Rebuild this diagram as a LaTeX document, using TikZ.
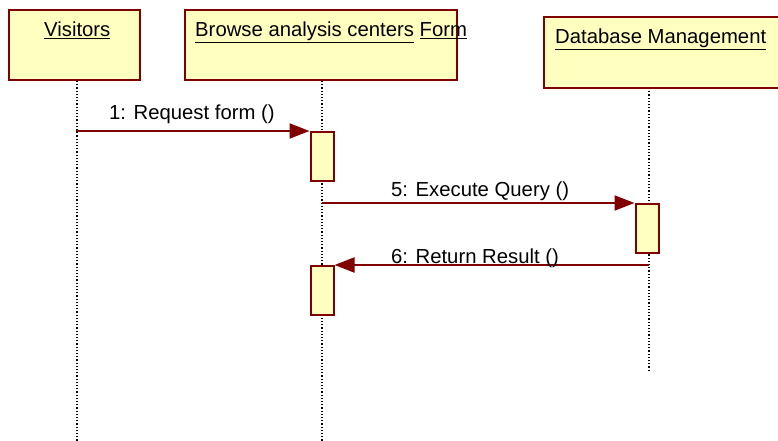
\documentclass[tikz,border=0pt]{standalone}
\usepackage{fontspec}
\setmainfont{Liberation Sans}
\usetikzlibrary{arrows.meta}
\definecolor{umlred}{RGB}{128,0,0}
\definecolor{umlfill}{RGB}{255,255,192}
\tikzset{
  objbox/.style={draw=umlred, fill=umlfill, line width=2.2pt},
  actbox/.style={draw=umlred, fill=umlfill, line width=2pt, minimum width=23pt, minimum height=49pt, inner sep=0pt, anchor=north west},
  lifeline/.style={draw=black, line width=1.2pt, dash pattern=on 1.2pt off 2pt},
  msg/.style={draw=umlred, line width=2pt, -{Triangle[length=20pt,width=15pt]}},
  lbl/.style={font=\fontsize{20.3pt}{24pt}\selectfont, inner sep=0pt, anchor=base west},
}
\begin{document}
\begin{tikzpicture}[x=1pt,y=-1pt]
\useasboundingbox (0,0) rectangle (778,441);
% lifelines
\coordinate (v0) at (77,81); \coordinate (v1) at (77,441);
\coordinate (b0) at (322,81); \coordinate (b1) at (322,441);
\coordinate (d0) at (649,88); \coordinate (d1) at (649,370);
\draw[lifeline] (v0) -- (v1);
\draw[lifeline] (b0) -- (b1);
\draw[lifeline] (d0) -- (d1);
% objects
\draw[objbox] (9,10) rectangle (140,80);
\node[lbl] (tv) at (44,37) {\underline{Visitors}};
\draw[objbox] (185,10) rectangle (457,80);
\node[lbl] (tb) at (195,37) {\underline{Browse analysis centers}\ \underline{Form}};
\draw[objbox] (544,17) rectangle (790,88);
\node[lbl] (td) at (555,44) {\underline{Database Management}};
% activations
\node[actbox] (a1) at (309.5,131) {};
\node[actbox] (a2) at (634.5,203) {};
\node[actbox] (a3) at (309.5,265) {};
% messages
\coordinate (m1s) at (76,131);
\draw[msg] (m1s) -- (a1.north west);
\node[lbl] (l1) at (109,120) {1: Request form ()};
\coordinate (m5s) at (322,203);
\draw[msg] (m5s) -- (a2.north west);
\node[lbl] (l5) at (391,196) {5: Execute Query ()};
\coordinate (m6s) at (649,265);
\draw[msg] (m6s) -- (a3.north east);
\node[lbl] (l6) at (391,263) {6: Return Result ()};
\end{tikzpicture}
\end{document}
